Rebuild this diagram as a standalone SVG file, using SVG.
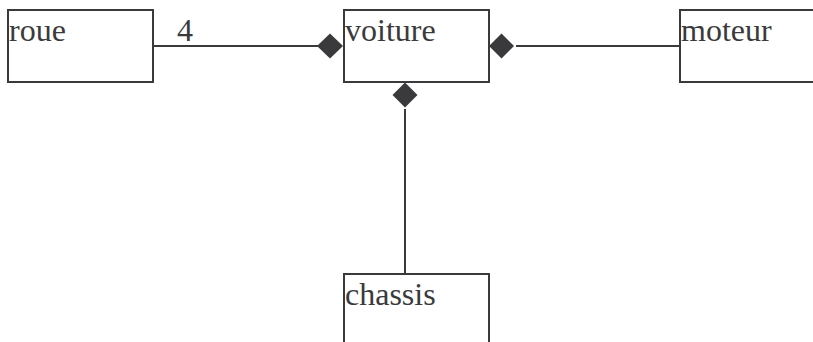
<svg xmlns="http://www.w3.org/2000/svg" width="813" height="342" viewBox="0 0 813 342">
  <style>
    .box { fill: #ffffff; stroke: #3a3a3c; stroke-width: 2; }
    .lbl { font-family: "Liberation Serif", "Times New Roman", serif; font-size: 32px; fill: #3a3a3c; }
    .link { stroke: #3a3a3c; stroke-width: 2; fill: none; }
    .diamond { fill: #3a3a3c; stroke: none; }
  </style>
  <rect width="813" height="342" fill="#ffffff"/>
  <g id="connectors">
    <line class="link" x1="153" y1="46" x2="318" y2="46"/>
    <polygon class="diamond" points="317,46 330,33.5 343,46 330,58.5"/>
    <text class="lbl" x="177" y="41">4</text>
    <line class="link" x1="516" y1="46" x2="680" y2="46"/>
    <polygon class="diamond" points="489,46 501.5,33.5 514,46 501.5,58.5"/>
    <line class="link" x1="405" y1="109" x2="405" y2="274"/>
    <polygon class="diamond" points="392.5,95 405,82.5 417.5,95 405,107.5"/>
  </g>
  <g id="roue">
    <rect class="box" x="8" y="10" width="145" height="72"/>
    <text class="lbl" x="9" y="41">roue</text>
  </g>
  <g id="voiture">
    <rect class="box" x="344" y="10" width="145" height="72"/>
    <text class="lbl" x="345" y="41">voiture</text>
  </g>
  <g id="moteur">
    <rect class="box" x="680" y="10" width="145" height="72"/>
    <text class="lbl" x="681" y="41">moteur</text>
  </g>
  <g id="chassis">
    <rect class="box" x="344" y="274" width="145" height="72"/>
    <text class="lbl" x="345" y="305">chassis</text>
  </g>
</svg>
